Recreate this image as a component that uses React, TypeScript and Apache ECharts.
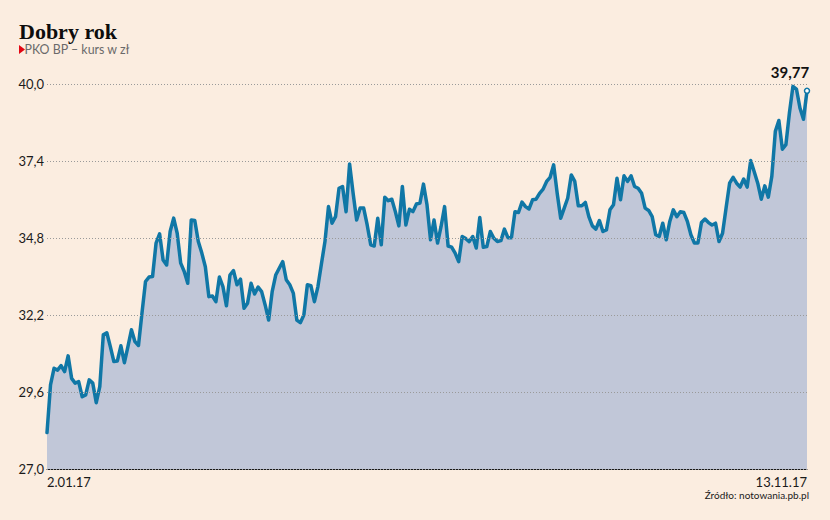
import React, { useEffect, useRef } from "react";
import * as echarts from "echarts";

const titleText = "Dobry rok";
const subtitleText = "PKO BP – kurs w zł";
const sourceText = "Źródło: notowania.pb.pl";
const xTickLabels = ["2.01.17", "13.11.17"];
const yMin = 27.0;
const yMax = 40.0;
const yStep = 2.6;

const pricesPart1 = [
  28.23, 29.84, 30.4, 30.34, 30.49, 30.29, 30.82, 30.06, 29.9, 29.95,
  29.44, 29.5, 30.01, 29.9, 29.24, 29.78, 31.53, 31.6, 31.13, 30.63,
  30.65, 31.16, 30.59, 31.13, 31.7, 31.3, 31.17, 32.27, 33.33, 33.48,
  33.5, 34.63, 34.94, 34.06, 33.89, 35.02, 35.47, 34.96, 33.95, 33.67,
  33.27, 35.41, 35.39, 34.68, 34.29, 33.83, 32.82,
];
const pricesPart2 = [
  32.84, 32.65, 33.48, 33.16, 32.51, 33.55, 33.7, 33.22, 33.41, 32.43,
  32.6, 33.27, 32.91, 33.14, 32.99, 32.54, 32.03, 32.99, 33.55, 33.78,
  34.0, 33.39, 33.22, 32.94, 32.03, 31.94, 32.2, 33.22, 33.19, 32.65,
  33.16, 33.93, 34.68, 35.86, 35.3, 35.52, 36.48, 36.54, 35.69, 37.3,
  36.31, 35.41, 35.81, 35.81, 35.24,
];
const pricesPart3 = [
  34.57, 34.53, 35.47, 34.57, 36.18, 36.06, 36.11, 35.69, 35.21, 36.54,
  35.24, 35.77, 35.69, 35.95, 35.98, 36.62, 35.92, 34.74, 35.41, 34.63,
  35.19, 35.86, 34.53, 34.49, 34.29, 34.0, 34.85, 34.78, 34.68, 34.85,
  34.46, 35.49, 34.49, 34.51, 35.02, 34.79, 34.68, 34.71, 35.1, 34.81,
  34.81, 35.69, 35.66,
];
const pricesPart4 = [
  36.01, 35.86, 35.78, 36.09, 36.11, 36.31, 36.45, 36.71, 36.85, 37.27,
  36.31, 35.47, 35.81, 36.15, 36.93, 36.71, 35.89, 35.89, 36.0, 35.52,
  35.21, 35.1, 35.39, 35.02, 35.07, 35.75, 35.92, 36.82, 36.09, 36.9,
  36.71, 36.9, 36.54, 36.48, 36.31, 35.81, 35.73, 35.52, 34.91, 34.85,
  35.3, 34.74, 35.36, 35.75, 35.52, 35.69, 35.66,
];
const pricesPart5 = [
  35.36, 34.91, 34.63, 34.63, 35.32, 35.44, 35.32, 35.24, 35.3, 34.68,
  34.96, 35.81, 36.65, 36.85, 36.65, 36.52, 36.79, 36.52, 37.42, 37.04,
  36.65, 36.11, 36.56, 36.18, 36.88, 38.4, 38.77, 37.8, 37.95, 39.02,
  39.92, 39.83, 39.19, 38.81, 39.77,
];

const prices = [
  ...pricesPart1,
  ...pricesPart2,
  ...pricesPart3,
  ...pricesPart4,
  ...pricesPart5,
];

const BG = "#fbede0";
const LINE = "#1077a6";
const FILL = "#c1c7d8";
const FONT = "Lato, 'Noto Sans', sans-serif";

const fmt = (v: number, d: number) => v.toFixed(d).replace(".", ",");

export default function App() {
  const ref = useRef<HTMLDivElement>(null);

  useEffect(() => {
    if (!ref.current) return;
    const chart = echarts.init(ref.current, undefined, { renderer: "svg" });
    const last = prices.length - 1;
    const categories = prices.map((_, i) =>
      i === 0 ? xTickLabels[0] : i === last ? xTickLabels[1] : String(i)
    );

    chart.setOption({
      animation: false,
      backgroundColor: BG,
      grid: { left: 47, right: 23, top: 84, bottom: 51, containLabel: false },
      xAxis: {
        type: "category",
        data: categories,
        boundaryGap: false,
        axisLine: { show: true, lineStyle: { color: "#1a1a1a", width: 1 } },
        axisTick: { show: false },
        splitLine: { show: false },
        axisLabel: {
          interval: (i: number) => i === 0 || i === last,
          showMinLabel: true,
          showMaxLabel: true,
          alignMinLabel: "left",
          alignMaxLabel: "right",
          color: "#1a1a1a",
          fontSize: 13,
          fontFamily: FONT,
          margin: 6,
        },
      },
      yAxis: {
        type: "value",
        min: yMin,
        max: yMax,
        interval: yStep,
        z: 3,
        axisLine: { show: false },
        axisTick: { show: false },
        splitLine: {
          show: true,
          lineStyle: { color: "#9a9a9a", type: [1, 2], width: 1 },
        },
        axisLabel: {
          formatter: (v: number) => fmt(v, 1),
          color: "#1a1a1a",
          fontSize: 13,
          fontFamily: FONT,
          margin: 3,
          padding: [0, 0, 8, 0],
        },
      },
      series: [
        {
          type: "line",
          data: prices,
          showSymbol: false,
          symbol: "none",
          smooth: false,
          lineStyle: { color: LINE, width: 3.5, join: "round", cap: "round" },
          areaStyle: { color: FILL, opacity: 1, origin: "start" },
          z: 2,
          markPoint: {
            symbol: "circle",
            symbolSize: 5,
            itemStyle: { color: "#ffffff", borderColor: LINE, borderWidth: 1.5 },
            label: {
              show: true,
              position: "top",
              offset: [-17, -3],
              formatter: (p: any) => fmt(p.value, 2),
              color: "#111",
              fontSize: 15,
              fontWeight: "bold",
              fontFamily: FONT,
            },
            data: [{ coord: [last, prices[last]], value: prices[last] }],
          },
        },
      ],
      graphic: [
        {
          type: "text",
          left: 19,
          top: 20,
          style: {
            text: titleText,
            font: "bold 22px 'Liberation Serif', serif",
            fill: "#0d0d0d",
          },
        },
        {
          type: "polygon",
          shape: { points: [[19, 45], [25, 49.5], [19, 54]] },
          style: { fill: "#e30613" },
        },
        {
          type: "text",
          x: 24.5,
          y: 49.5,
          style: {
            text: subtitleText,
            font: "12.4px Lato, sans-serif",
            fill: "#6a6a6a",
            verticalAlign: "middle",
            align: "left",
          },
        },
        {
          type: "text",
          x: 809,
          y: 495,
          style: {
            text: sourceText,
            font: "10px Lato, sans-serif",
            fill: "#1a1a1a",
            verticalAlign: "middle",
            align: "right",
          },
        },
      ],
    });

    return () => chart.dispose();
  }, []);

  return (
    <div
      ref={ref}
      style={{ position: "fixed", left: 0, top: 0, width: 830, height: 520 }}
    />
  );
}
